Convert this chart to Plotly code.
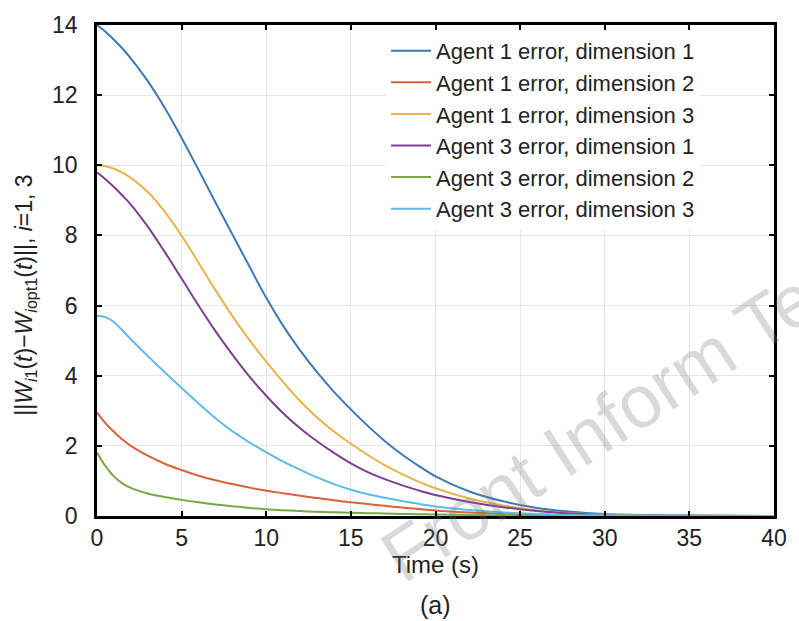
import plotly.graph_objects as go

# ---- data ----
t = [0, 0.5, 1, 1.5, 2, 3, 4, 5, 6, 7, 8, 9, 10, 11, 12, 13, 14, 15, 16, 17, 18, 19, 20,
     22, 24, 26, 28, 30, 33, 36, 40]

agent1_dim1 = [14.0, 13.81, 13.58, 13.33, 13.05, 12.4, 11.64, 10.78, 9.87, 8.94, 8.03, 7.12, 6.22,
               5.42, 4.72, 4.1, 3.54, 3.04, 2.57, 2.14, 1.76, 1.43, 1.13,
               0.7, 0.42, 0.23, 0.12, 0.06, 0.02, 0.01, 0.0]
agent1_dim2 = [2.95, 2.65, 2.4, 2.18, 2.0, 1.72, 1.49, 1.31, 1.15, 1.02, 0.91, 0.81, 0.72,
               0.65, 0.58, 0.51, 0.45, 0.39, 0.34, 0.29, 0.24, 0.2, 0.16,
               0.1, 0.07, 0.04, 0.02, 0.01, 0.005, 0.0, 0.0]
agent1_dim3 = [10.0, 9.97, 9.9, 9.79, 9.64, 9.24, 8.68, 7.99, 7.22, 6.44, 5.7, 5.02, 4.4,
               3.82, 3.28, 2.81, 2.41, 2.06, 1.74, 1.45, 1.2, 0.98, 0.79,
               0.5, 0.3, 0.16, 0.08, 0.04, 0.01, 0.005, 0.0]
agent3_dim1 = [9.8, 9.6, 9.38, 9.14, 8.88, 8.25, 7.53, 6.77, 6.0, 5.27, 4.6, 3.98, 3.43,
               2.93, 2.5, 2.13, 1.8, 1.5, 1.25, 1.05, 0.88, 0.73, 0.6,
               0.4, 0.25, 0.14, 0.07, 0.03, 0.01, 0.005, 0.0]
agent3_dim2 = [1.8, 1.42, 1.13, 0.93, 0.8, 0.64, 0.54, 0.46, 0.39, 0.33, 0.28, 0.23, 0.19,
               0.165, 0.14, 0.12, 0.105, 0.09, 0.08, 0.07, 0.06, 0.05, 0.04,
               0.03, 0.02, 0.015, 0.01, 0.01, 0.005, 0.0, 0.0]
agent3_dim3 = [5.7, 5.67, 5.53, 5.29, 5.04, 4.56, 4.1, 3.65, 3.21, 2.79, 2.42, 2.1, 1.82,
               1.55, 1.32, 1.1, 0.91, 0.75, 0.62, 0.52, 0.43, 0.35, 0.27,
               0.17, 0.1, 0.06, 0.03, 0.02, 0.01, 0.0, 0.0]

names = ["Agent 1 error, dimension 1", "Agent 1 error, dimension 2",
         "Agent 1 error, dimension 3", "Agent 3 error, dimension 1",
         "Agent 3 error, dimension 2", "Agent 3 error, dimension 3"]
series = [agent1_dim1, agent1_dim2, agent1_dim3, agent3_dim1, agent3_dim2, agent3_dim3]
colors = ["#3F79B5", "#D9623B", "#E9B24A", "#7E3F93", "#78A844", "#5DBCE8"]

x_ticks = [0, 5, 10, 15, 20, 25, 30, 35, 40]
y_ticks = [0, 2, 4, 6, 8, 10, 12, 14]

FONT = "Liberation Sans, Arial, sans-serif"
TXT = "#222222"

fig = go.Figure()
for name, ys, c in zip(names, series, colors):
    fig.add_trace(go.Scatter(x=t, y=ys, mode="lines", name=name,
                             line=dict(color=c, width=2, shape="spline", smoothing=1.0)))

axis_common = dict(
    showline=True, linecolor="black", linewidth=2.5, mirror="ticks",
    ticks="inside", ticklen=5, tickwidth=1.5, tickcolor="black",
    showgrid=True, gridcolor="#e6e6e6", gridwidth=1, zeroline=False,
    tickfont=dict(family=FONT, size=23, color=TXT),
)

fig.update_xaxes(range=[0, 40], tickvals=x_ticks, **axis_common,
                 title=dict(text="Time (s)", font=dict(family=FONT, size=24, color=TXT),
                            standoff=6))
fig.update_yaxes(range=[0, 14], tickvals=y_ticks, ticklabelstandoff=12, **axis_common)

fig.update_layout(
    width=799, height=621,
    margin=dict(l=97, r=18, t=19, b=105),
    paper_bgcolor="white", plot_bgcolor="white",
    showlegend=True,
    legend=dict(x=0.427, y=0.99, xanchor="left", yanchor="top",
                bgcolor="white", borderwidth=0,
                font=dict(family=FONT, size=22, color=TXT),
                tracegroupgap=0, itemwidth=40),
)

# y-axis title (placed as in the reference, slightly below the axis centre)
fig.add_annotation(text="||<i>W</i><sub><i>i</i>1</sub>(<i>t</i>)\u2212<i>W</i><sub><i>i</i>opt1</sub>(<i>t</i>)||, <i>i</i>=1, 3",
                   xref="paper", yref="paper", x=-0.106, y=0.449,
                   xanchor="center", yanchor="middle", textangle=-90, showarrow=False,
                   font=dict(family=FONT, size=23, color=TXT))

fig.add_annotation(text="(a)", xref="paper", yref="paper", x=0.5, y=-0.182,
                   xanchor="center", yanchor="middle", showarrow=False,
                   font=dict(family=FONT, size=25, color=TXT))

fig.add_annotation(text="Front Inform Te", xref="paper", yref="paper",
                   x=0.741, y=0.181, xanchor="center", yanchor="middle",
                   textangle=-33, showarrow=False,
                   font=dict(family=FONT, size=74, color="rgba(120,120,120,0.28)"))

fig.write_html("out.html")
